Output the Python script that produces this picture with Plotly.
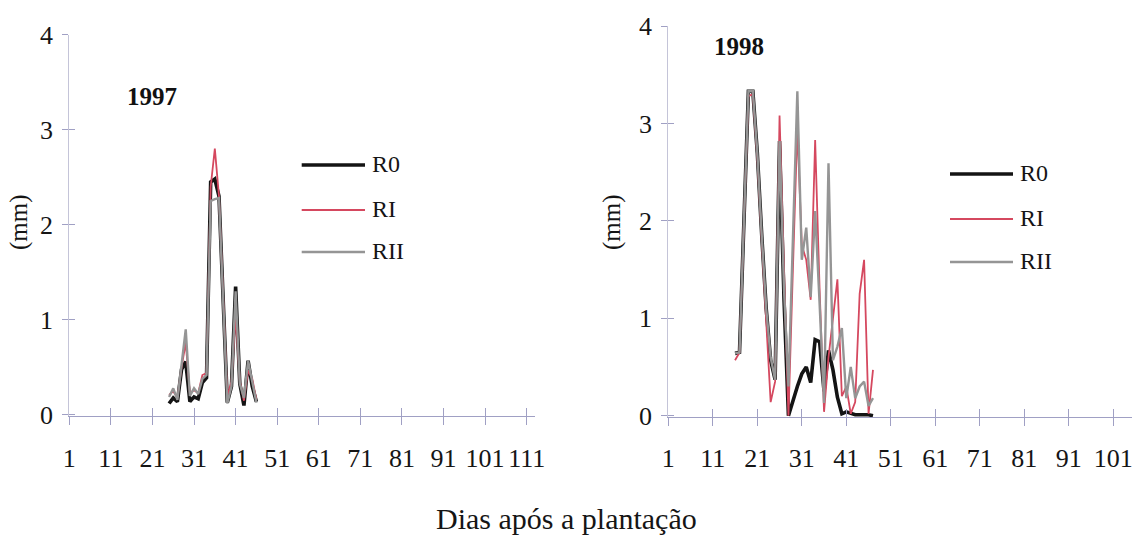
import plotly.graph_objects as go

# ---------------- data ----------------
days_1997 = [25, 26, 27, 28, 29, 30, 31, 32, 33, 34, 35, 36, 37, 38, 39, 40, 41, 42, 43, 44, 45, 46]
r0_1997 = [0.12, 0.18, 0.14, 0.48, 0.56, 0.14, 0.19, 0.17, 0.34, 0.39, 2.45, 2.48, 2.30, 1.20, 0.13, 0.30, 1.35, 0.33, 0.10, 0.57, 0.30, 0.14]
r1_1997 = [0.21, 0.25, 0.18, 0.50, 0.76, 0.23, 0.26, 0.23, 0.42, 0.44, 2.40, 2.80, 2.30, 1.20, 0.20, 0.35, 1.05, 0.36, 0.15, 0.47, 0.38, 0.16]
r2_1997 = [0.19, 0.28, 0.16, 0.52, 0.90, 0.20, 0.28, 0.22, 0.38, 0.42, 2.25, 2.27, 2.28, 1.20, 0.12, 0.30, 1.30, 0.33, 0.18, 0.57, 0.35, 0.13]

days_1998 = [16, 17, 18, 19, 20, 21, 22, 23, 24, 25, 26, 27, 28, 29, 30, 31,
             32, 33, 34, 35, 36, 37, 38, 39, 40, 41, 42, 43, 44, 45, 46, 47]
r0_1998 = [0.64, 0.65, 2.00, 3.33, 3.33, 2.70, 1.85, 1.10, 0.57, 0.37, 2.82, 1.20, 0.00, 0.16, 0.30, 0.43,
           0.50, 0.34, 0.78, 0.76, 0.25, 0.67, 0.47, 0.19, 0.02, 0.04, 0.02, 0.01, 0.01, 0.01, 0.01, 0.00]
r1_1998 = [0.57, 0.65, 2.00, 3.28, 3.30, 2.65, 1.80, 1.00, 0.14, 0.35, 3.08, 1.50, 0.00, 1.50, 2.95, 1.75,
           1.60, 1.19, 2.83, 1.30, 0.04, 0.60, 1.00, 1.40, 0.20, 0.30, 0.02, 0.14, 1.25, 1.60, 0.02, 0.47]
r2_1998 = [0.64, 0.65, 2.00, 3.33, 3.33, 2.70, 1.85, 1.10, 0.60, 0.37, 2.82, 1.30, 0.30, 1.90, 3.33, 1.60,
           1.93, 1.22, 2.10, 1.15, 0.13, 2.59, 0.57, 0.71, 0.90, 0.18, 0.50, 0.18, 0.30, 0.35, 0.10, 0.18]

series_names = ["R0", "RI", "RII"]
x_ticks_1997 = [1, 11, 21, 31, 41, 51, 61, 71, 81, 91, 101, 111]
x_ticks_1998 = [1, 11, 21, 31, 41, 51, 61, 71, 81, 91, 101]
y_ticks = [0, 1, 2, 3, 4]
year_labels = ["1997", "1998"]
x_title = "Dias após a plantação"
y_title = "(mm)"

# ---------------- styling ----------------
W, H = 1132, 537
FONT = "Liberation Serif, Times New Roman, DejaVu Serif, serif"
styles = {
    "R0": dict(color="#141414", width=3.6),
    "RI": dict(color="#d5485f", width=1.8),
    "RII": dict(color="#959595", width=2.4),
}
AX_X = "#a0a0c4"
AX_Y = "#c4c4d8"


def fx(p):
    return p / W


def fy(p):
    return 1 - p / H


fig = go.Figure()

for name, vals in zip(series_names, [r0_1997, r1_1997, r2_1997]):
    fig.add_trace(go.Scatter(x=days_1997, y=vals, mode="lines", name=name,
                             line=styles[name], showlegend=False,
                             xaxis="x", yaxis="y", hoverinfo="x+y+name"))
for name, vals in zip(series_names, [r0_1998, r1_1998, r2_1998]):
    fig.add_trace(go.Scatter(x=days_1998, y=vals, mode="lines", name=name,
                             line=styles[name], showlegend=False,
                             xaxis="x2", yaxis="y2", hoverinfo="x+y+name"))
# helper (empty) traces so that the overlay axes that draw the inner half of the crossing ticks exist
fig.add_trace(go.Scatter(x=[None], y=[None], xaxis="x3", yaxis="y3", showlegend=False, hoverinfo="skip"))
fig.add_trace(go.Scatter(x=[None], y=[None], xaxis="x4", yaxis="y4", showlegend=False, hoverinfo="skip"))

tickfont = dict(family=FONT, size=26, color="#151515")

left_x_dom = [fx(69.3), fx(535)]
left_y_dom = [fy(416.4), fy(34.5)]
right_x_dom = [fx(668.3), 1.0]
right_y_dom = [fy(417.2), fy(26.0)]
yr = [-0.015, 4]
xr1 = [1, 113]
xr2 = [1, 105.2]

common_x = dict(showgrid=False, zeroline=False, tickmode="array", ticklen=8, tickwidth=1, tickcolor=AX_X,
                automargin=False)
common_y = dict(showgrid=False, zeroline=False, tickmode="array", ticklen=6, tickwidth=1, tickcolor=AX_X,
                range=yr, tickvals=y_ticks, automargin=False)

fig.update_layout(
    width=W, height=H, autosize=False,
    margin=dict(l=0, r=0, t=0, b=0, pad=0),
    paper_bgcolor="white", plot_bgcolor="rgba(0,0,0,0)",
    showlegend=False,
    xaxis=dict(**common_x, domain=left_x_dom, range=xr1, tickvals=x_ticks_1997, anchor="y",
               ticks="outside", showline=True, linecolor=AX_X, linewidth=1,
               tickfont=tickfont, ticklabelstandoff=10, ticklabeloverflow="allow"),
    yaxis=dict(**common_y, domain=left_y_dom, anchor="x", ticks="outside", showline=True,
               linecolor=AX_Y, linewidth=1, tickfont=tickfont, ticklabelstandoff=4),
    xaxis2=dict(**common_x, domain=right_x_dom, range=xr2, tickvals=x_ticks_1998, anchor="y2",
                ticks="outside", showline=True, linecolor=AX_X, linewidth=1,
                tickfont=tickfont, ticklabelstandoff=10, ticklabeloverflow="allow"),
    yaxis2=dict(**common_y, domain=right_y_dom, anchor="x2", ticks="outside", showline=True,
                linecolor=AX_Y, linewidth=1, tickfont=tickfont, ticklabelstandoff=4),
    xaxis3=dict(**common_x, overlaying="x", anchor="y3", range=xr1, tickvals=x_ticks_1997,
                ticks="inside", showline=False, showticklabels=False),
    yaxis3=dict(**common_y, overlaying="y", anchor="x3", ticks="inside", showline=False,
                showticklabels=False),
    xaxis4=dict(**common_x, overlaying="x2", anchor="y4", range=xr2, tickvals=x_ticks_1998,
                ticks="inside", showline=False, showticklabels=False),
    yaxis4=dict(**common_y, overlaying="y2", anchor="x4", ticks="inside", showline=False,
                showticklabels=False),
)

annotations = [
    dict(text=x_title, x=fx(566), y=0, xref="paper", yref="paper", showarrow=False,
         font=dict(family=FONT, size=30, color="#151515"), xanchor="center", yanchor="bottom"),
    dict(text=y_title, x=fx(19), y=fy(222), xref="paper", yref="paper", showarrow=False, textangle=-90,
         font=dict(family=FONT, size=25, color="#151515"), xanchor="center", yanchor="middle"),
    dict(text=y_title, x=fx(612), y=fy(222), xref="paper", yref="paper", showarrow=False, textangle=-90,
         font=dict(family=FONT, size=25, color="#151515"), xanchor="center", yanchor="middle"),
    dict(text="<b>" + year_labels[0] + "</b>", x=fx(152), y=fy(96), xref="paper", yref="paper",
         showarrow=False, font=dict(family=FONT, size=25, color="#111111"),
         xanchor="center", yanchor="middle"),
    dict(text="<b>" + year_labels[1] + "</b>", x=fx(739), y=fy(47), xref="paper", yref="paper",
         showarrow=False, font=dict(family=FONT, size=25, color="#111111"),
         xanchor="center", yanchor="middle"),
]

# manual legends (long line samples as in the original)
legend_pos = [
    (301.7, 365.0, 370.0, [165, 210, 252]),
    (950.0, 1013.0, 1018.0, [174, 219, 262]),
]
shapes = []
for x0, x1, xt, ys in legend_pos:
    for name, yy in zip(series_names, ys):
        st = styles[name]
        shapes.append(dict(type="line", xref="paper", yref="paper", x0=fx(x0), x1=fx(x1),
                           y0=fy(yy), y1=fy(yy), line=dict(color=st["color"], width=st["width"])))
        annotations.append(dict(text=name, x=fx(xt), y=fy(yy - 1), xref="paper", yref="paper",
                                showarrow=False, xanchor="left", yanchor="middle",
                                font=dict(family=FONT, size=24, color="#151515")))

fig.update_layout(annotations=annotations, shapes=shapes)

fig.write_html("out.html")
